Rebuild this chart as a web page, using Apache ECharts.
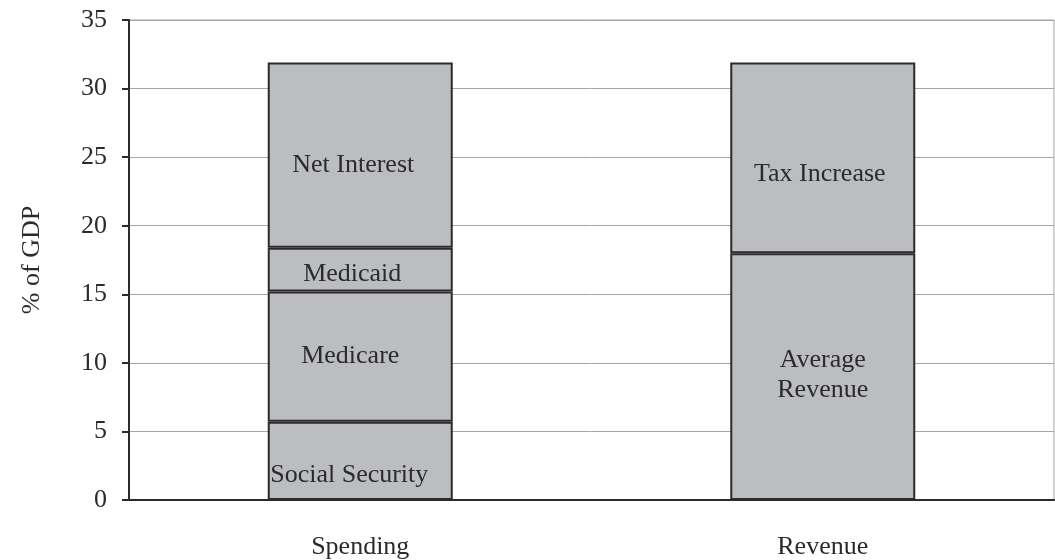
<!DOCTYPE html>
<html>
<head>
<meta charset="utf-8">
<script src="https://cdn.jsdelivr.net/npm/echarts@6/dist/echarts.min.js"></script>
<style>
  html, body { margin: 0; padding: 0; background: #fff; }
  #chart { width: 1055px; height: 560px; }
</style>
</head>
<body>
<div id="chart"></div>
<script>
var categories = ['Spending', 'Revenue'];
var yTicks = [0, 5, 10, 15, 20, 25, 30, 35];

// stacked segments, bottom to top (null where the segment is not in that bar)
var segmentNames = ['Social Security', 'Medicare', 'Medicaid', 'Net Interest', 'Average\nRevenue', 'Tax Increase'];
var socialSecurity = [5.7, null];
var medicare = [9.5, null];
var medicaid = [3.2, null];
var netInterest = [13.5, null];
var averageRevenue = [null, 18.0];
var taxIncrease = [null, 13.9];

var segmentValues = [socialSecurity, medicare, medicaid, netInterest, averageRevenue, taxIncrease];
// small nudges so labels sit where the original puts them
var labelNudge = [[-11, 14], [-10, -1], [-8, 5], [-7, 10], [0, -1], [-3, 16]];

var font = '"Liberation Serif", "DejaVu Serif", serif';
var ink = '#2b2b2b';

var chart = echarts.init(document.getElementById('chart'));

var series = segmentValues.map(function(vals, i) {
	return {
		name: segmentNames[i],
		type: 'bar',
		stack: 'total',
		barWidth: '40%',
		data: vals.map(function(v) { return v === null ? '-' : v; }),
		itemStyle: {
			color: '#bcbdc1',
			borderColor: ink,
			borderWidth: 2
		},
		label: {
			show: true,
			position: 'inside',
			offset: labelNudge[i],
			formatter: function() { return segmentNames[i]; },
			fontFamily: font,
			fontSize: 26,
			lineHeight: 30,
			color: ink
		},
		emphasis: { disabled: true }
	};
});

var option = {
	animation: false,
	backgroundColor: '#fff',
	grid: {
		left: 129,
		right: 1,
		top: 20,
		bottom: 60,
		show: true,
		borderColor: '#a6a6a6',
		borderWidth: 1
	},
	xAxis: {
		type: 'category',
		data: categories,
		axisLine: { lineStyle: { color: ink, width: 2 } },
		axisTick: { show: false },
		axisLabel: { fontFamily: font, fontSize: 26, color: ink, margin: 34 }
	},
	yAxis: {
		type: 'value',
		min: yTicks[0],
		max: yTicks[yTicks.length - 1],
		interval: 5,
		name: '% of GDP',
		nameLocation: 'middle',
		nameGap: 84,
		nameTextStyle: { fontFamily: font, fontSize: 26, color: ink },
		axisLine: { show: true, lineStyle: { color: ink, width: 2 } },
		axisTick: { show: true, length: 7, lineStyle: { color: ink, width: 2 } },
		axisLabel: { fontFamily: font, fontSize: 26, color: ink, margin: 22 },
		splitLine: { lineStyle: { color: '#a6a6a6', width: 1 } }
	},
	series: series
};

chart.setOption(option);
</script>
</body>
</html>
